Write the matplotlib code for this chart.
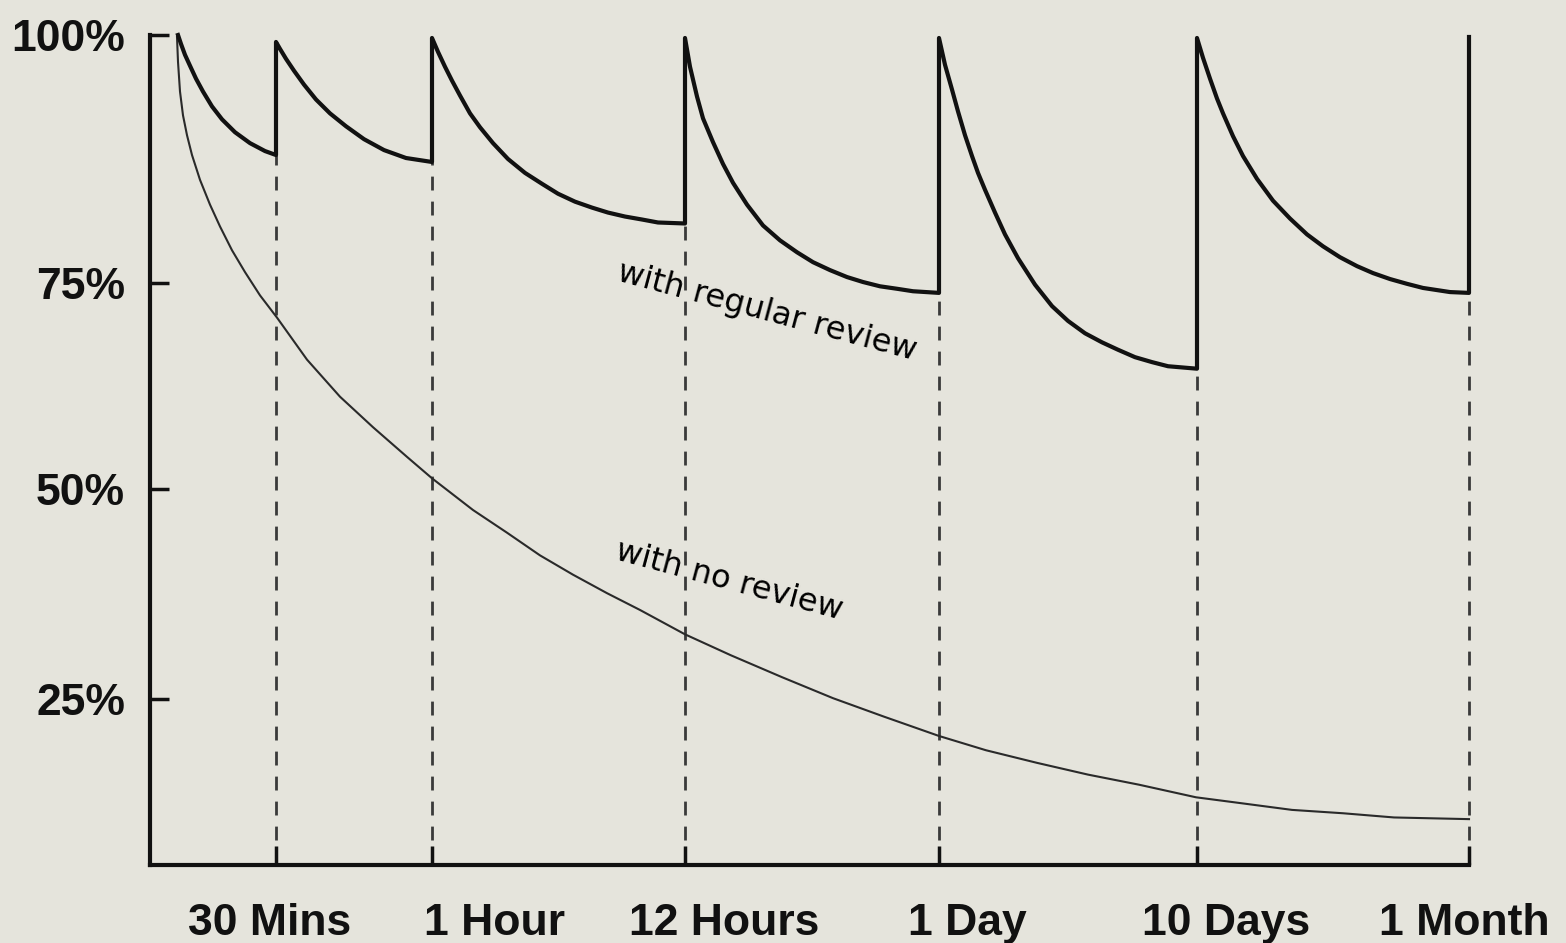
import numpy as np
import matplotlib.pyplot as plt

# memory retention (%) vs time, schematic x axis (arbitrary units along the axis)
time_labels = ['30 Mins', '1 Hour', '12 Hours', '1 Day', '10 Days', '1 Month']
review_x = [126, 282, 535, 789, 1047, 1319]
label_x = [120, 345, 574, 817, 1076, 1314]
pct_ticks = [25, 50, 75, 100]

# with regular review: one decay segment per interval, each starts at a review
reg_x = [
    [28, 31, 35, 40, 46, 53, 62, 72, 85, 100, 115, 126],
    [126, 130, 136, 144, 154, 166, 180, 196, 214, 234, 256, 282],
    [282, 288, 295, 302, 310, 320, 330, 343, 358, 375, 392, 408, 425, 442, 458, 475, 492, 508, 535],
    [535, 540, 547, 553, 563, 573, 583, 597, 613, 630, 647, 663, 680, 697, 713, 730, 747, 763, 789],
    [789, 795, 802, 808, 815, 822, 828, 835, 845, 855, 868, 885, 902, 918, 935, 952, 968, 985, 1002, 1018, 1047],
    [1047, 1053, 1060, 1067, 1073, 1083, 1093, 1107, 1123, 1140, 1157, 1173, 1190, 1207, 1223, 1240, 1257, 1273, 1300, 1319],
]
reg_y = [
    [100, 99.1, 98.0, 96.9, 95.6, 94.3, 92.8, 91.5, 90.2, 89.1, 88.3, 87.9],
    [99.3, 98.6, 97.6, 96.4, 95.0, 93.5, 92.1, 90.8, 89.5, 88.4, 87.6, 87.2],
    [99.7, 98.3, 96.8, 95.4, 93.9, 92.1, 90.7, 89.1, 87.5, 86.1, 85.0, 84.0, 83.2, 82.6, 82.1, 81.7, 81.4, 81.1, 81.0],
    [99.7, 96.8, 93.8, 91.6, 89.2, 87.0, 85.1, 82.9, 80.8, 79.3, 78.1, 77.1, 76.3, 75.6, 75.1, 74.6, 74.3, 74.0, 73.8],
    [99.7, 97.0, 94.5, 92.3, 89.9, 87.8, 86.1, 84.4, 82.1, 79.9, 77.5, 74.8, 72.2, 70.4, 68.9, 67.8, 66.9, 66.0, 65.4, 64.9, 64.6],
    [99.7, 97.7, 95.6, 93.6, 92.1, 89.8, 87.8, 85.5, 83.3, 81.5, 79.9, 78.7, 77.6, 76.7, 76.0, 75.4, 74.9, 74.4, 73.9, 73.8],
]
final_review_y = 99.8

# with no review
none_x = [27, 28, 30, 33, 37, 42, 50, 60, 70, 82, 95, 110, 127, 157, 190, 223, 257, 282, 323, 357,
          390, 423, 457, 490, 535, 581, 632, 683, 734, 789, 836, 887, 938, 989, 1046, 1091, 1142,
          1193, 1244, 1319]
none_y = [99.8, 97.3, 94.3, 91.9, 89.9, 87.9, 85.4, 82.9, 80.7, 78.3, 76.1, 73.5, 70.8, 65.7, 61.2,
          57.5, 53.9, 51.3, 47.5, 44.8, 42.1, 39.8, 37.6, 35.6, 32.7, 30.2, 27.6, 25.1, 22.9, 20.6,
          18.9, 17.4, 16.0, 14.8, 13.3, 12.6, 11.8, 11.4, 10.9, 10.7]

# the original's percent gridding is not evenly spaced
scale_pct = [0, 25, 50, 75, 100]
scale_pos = [0, 210, 420, 626, 874]

bg = '#e5e4dc'
ink = '#111111'
plt.rcParams['font.family'] = ['Liberation Sans', 'DejaVu Sans']

fig = plt.figure(figsize=(15.66, 9.43), dpi=100, facecolor=bg)
ax = fig.add_axes([150 / 1566, 78 / 943, 1319 / 1566, 830 / 943])
ax.set_facecolor(bg)
ax.set_yscale('function', functions=(lambda v: np.interp(v, scale_pct, scale_pos),
                                     lambda u: np.interp(u, scale_pos, scale_pct)))
ax.set_xlim(0, 1319)
ax.set_ylim(5.24, 100)

line_x = np.concatenate(reg_x + [[review_x[-1]]])
line_y = np.concatenate(reg_y + [[final_review_y]])
ends_x = [seg[-1] for seg in reg_x]
ends_y = [seg[-1] for seg in reg_y]

ax.vlines(ends_x, 5.24, ends_y, colors='#3a3a3a', linestyles=(0, (5, 4)), lw=2,
          zorder=1, clip_on=False)
ax.plot(none_x, none_y, color='#2a2a2a', lw=1.5, zorder=2, clip_on=False)
ax.plot(line_x, line_y, color=ink, lw=3, zorder=3, clip_on=False)

ax.text(617, 71.5, 'with regular review', rotation=-15, rotation_mode='anchor',
        ha='center', va='center', fontsize=23, family=['DejaVu Sans'], color='black')
ax.text(579, 39.0, 'with no review', rotation=-15, rotation_mode='anchor',
        ha='center', va='center', fontsize=23, family=['DejaVu Sans'], color='black')

for side in ['top', 'right']:
    ax.spines[side].set_visible(False)
for side in ['left', 'bottom']:
    ax.spines[side].set_linewidth(3)
    ax.spines[side].set_color(ink)

ax.set_yticks(pct_ticks, labels=[f'{v}%' for v in pct_ticks])
ax.set_yticks([], minor=True)
ax.tick_params(axis='y', direction='in', length=14, width=2.5, pad=18, labelsize=32, colors=ink)
for lab in ax.get_yticklabels():
    lab.set_fontweight('bold')

ax.set_xticks(review_x, labels=[''] * len(review_x))
ax.tick_params(axis='x', direction='in', length=14, width=2.5, colors=ink)
for lx, name in zip(label_x, time_labels):
    ax.text(lx, -0.084, name, transform=ax.get_xaxis_transform(), ha='center', va='baseline',
            fontsize=32, fontweight='bold', color=ink)

fig.savefig('out.png', dpi=100, facecolor=bg)
